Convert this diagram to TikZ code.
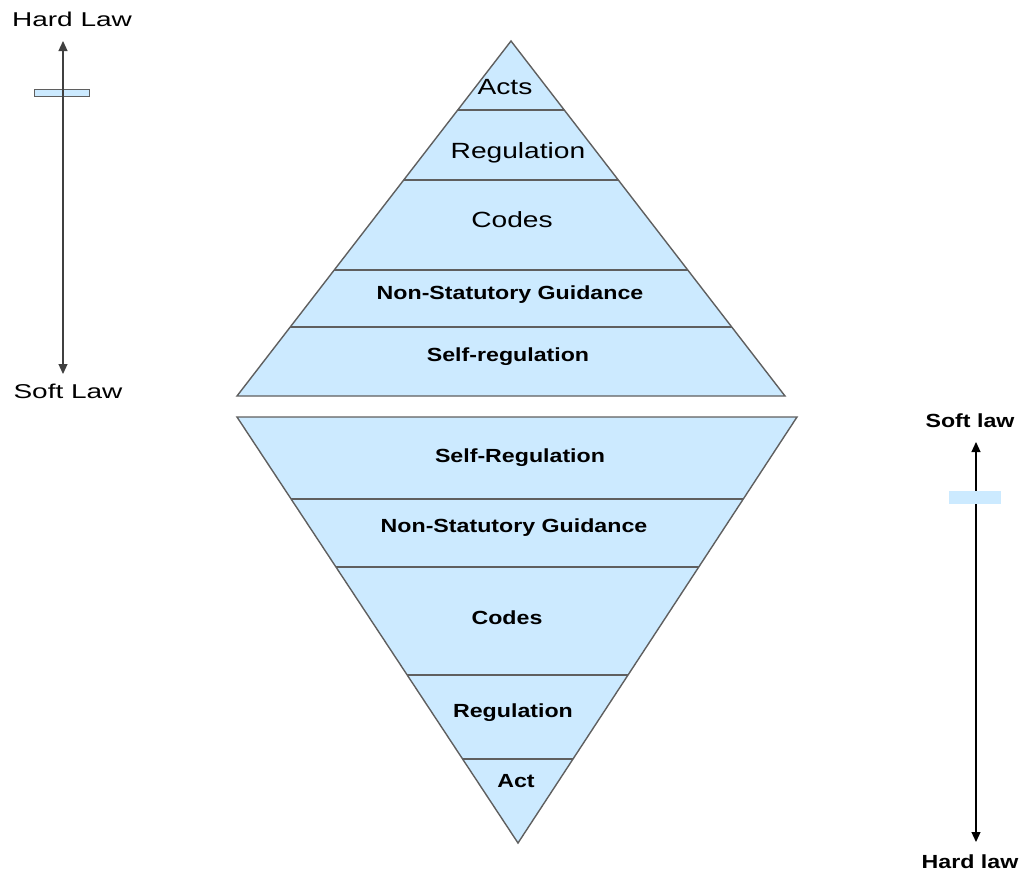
\documentclass[tikz,border=0pt]{standalone}
\usepackage{fontspec}
\setmainfont{Liberation Sans}
\usetikzlibrary{calc,arrows.meta}

\definecolor{tierblue}{RGB}{204,234,255}
\definecolor{edgegray}{RGB}{95,95,95}
\newcommand{\widetext}[2]{\scalebox{#1}[1]{#2}}

\begin{document}
\begin{tikzpicture}[x=1pt,y=-1pt,
        tier/.style={anchor=base,font=\fontsize{22}{26}\selectfont},
        tierb/.style={anchor=base,font=\fontsize{19}{23}\selectfont\bfseries},
        side/.style={anchor=base,font=\fontsize{20}{24}\selectfont},
        scalearrow/.style={{Triangle[length=10pt,width=9pt]}-{Triangle[length=10pt,width=9pt]},line width=1.2pt},
        outline/.style={fill=tierblue,draw=edgegray,line width=1.4pt}]
        \useasboundingbox (0,0) rectangle (1021,870);

        % upper pyramid: apex and base corners
        \coordinate (A) at (511,41);
        \coordinate (BL) at (237,396);
        \coordinate (BR) at (785,396);
        \filldraw[outline] (A) -- (BL) -- (BR) -- cycle;
        % tiers of upper pyramid
        \foreach \y in {110,180,270,327}
            \draw[edgegray,line width=1.2pt] ($(A)!{(\y-41)/355}!(BL)$) -- ($(A)!{(\y-41)/355}!(BR)$);

        \node[tier] (actsT) at (505,94) {\widetext{1.28}{Acts}};
        \node[tier] (regT) at (518,158) {\widetext{1.28}{Regulation}};
        \node[tier] (codesT) at (512,227) {\widetext{1.28}{Codes}};
        \node[tierb] (guideT) at (510,299) {\widetext{1.22}{Non-Statutory Guidance}};
        \node[tierb] (selfT) at (508,361) {\widetext{1.22}{Self-regulation}};

        % lower pyramid: top corners and apex
        \coordinate (V) at (518,843);
        \coordinate (TL) at (237,417);
        \coordinate (TR) at (797,417);
        \filldraw[outline] (TL) -- (TR) -- (V) -- cycle;
        % tiers of lower pyramid
        \foreach \y in {499,567,675,759}
            \draw[edgegray,line width=1.2pt] ($(V)!{(843-\y)/426}!(TL)$) -- ($(V)!{(843-\y)/426}!(TR)$);

        \node[tierb] (selfB) at (520,462) {\widetext{1.22}{Self-Regulation}};
        \node[tierb] (guideB) at (514,532) {\widetext{1.22}{Non-Statutory Guidance}};
        \node[tierb] (codesB) at (507,624) {\widetext{1.22}{Codes}};
        \node[tierb] (regB) at (513,717) {\widetext{1.22}{Regulation}};
        \node[tierb] (actB) at (516,787) {\widetext{1.22}{Act}};

        % left scale
        \coordinate (hardtop) at (63,41);
        \coordinate (softbot) at (63,374);
        \filldraw[fill=tierblue,draw=edgegray,line width=1pt] (34.5,89.5) rectangle (89,96.5);
        \draw[scalearrow,black!75] (hardtop) -- (softbot);
        \node[side] (hardL) at (72,27) {\widetext{1.4}{Hard Law}};
        \node[side] (softL) at (68,398) {\widetext{1.4}{Soft Law}};

        % right scale
        \coordinate (softtop) at (976,442);
        \coordinate (hardbot) at (976,842);
        \draw[scalearrow,black] (softtop) -- (hardbot);
        \fill[tierblue] (949,491) rectangle (1001,504);
        \node[tierb] (softR) at (970,427) {\widetext{1.22}{Soft law}};
        \node[tierb] (hardR) at (970,868) {\widetext{1.22}{Hard law}};
\end{tikzpicture}
\end{document}
